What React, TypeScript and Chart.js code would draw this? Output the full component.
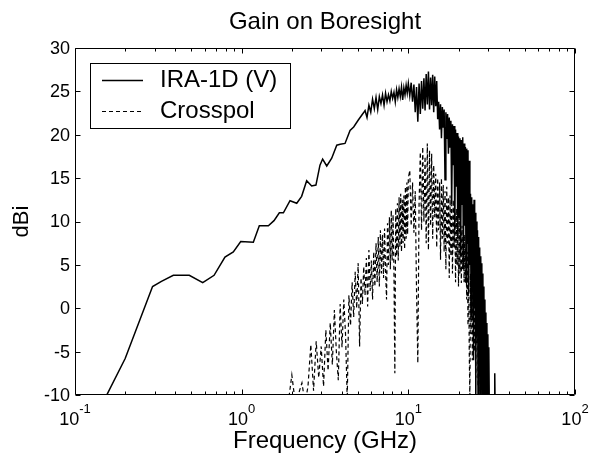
import { useEffect, useRef } from "react";
import { Chart, registerables } from "chart.js";

Chart.register(...registerables);

const FONT = '"Liberation Sans", Arial, Helvetica, sans-serif';

const chartTitle = "Gain on Boresight";
const xAxisTitle = "Frequency (GHz)";
const yAxisTitle = "dBi";
const seriesNames = ["IRA-1D (V)", "Crosspol"];

const xMajorTicks = [0.1, 1, 10, 100];
const xMajorExponents = ["-1", "0", "1", "2"];
const xMinorTicks = [
  0.2, 0.3, 0.4, 0.5, 0.6, 0.7, 0.8, 0.9,
  2, 3, 4, 5, 6, 7, 8, 9,
  20, 30, 40, 50, 60, 70, 80, 90,
];
const yTicks = [-10, -5, 0, 5, 10, 15, 20, 25, 30];

// IRA-1D (V) boresight gain
const mainFreq = [
  0.15, 0.2, 0.292, 0.33, 0.389, 0.485, 0.584, 0.683, 0.794, 0.891,
  0.987, 1.175, 1.276, 1.446, 1.563, 1.683, 1.78, 1.95, 2.14, 2.29,
  2.455, 2.63, 2.79, 2.95, 3.06, 3.24, 3.47, 3.72, 3.9, 4.17,
  4.47, 4.7, 5.01, 5.37,
  5.5, 5.65, 5.8, 5.95, 6.1, 6.25, 6.4, 6.55, 6.7, 6.85,
  7.0, 7.15, 7.3, 7.45, 7.6, 7.75, 7.9, 8.05, 8.2, 8.35,
  8.5, 8.65, 8.8, 8.95, 9.1, 9.25, 9.4, 9.55, 9.7, 9.85,
  10.0, 10.2, 10.4, 10.6, 10.8, 11.0, 11.2, 11.4, 11.6, 11.8,
  12.0, 12.2, 12.4, 12.6, 12.8, 13.0, 13.2, 13.4, 13.6, 13.8,
  14.0, 14.2, 14.4, 14.6, 14.8, 15.0, 15.2, 15.4, 15.6, 15.8,
  16.0, 16.2, 16.4, 16.6, 16.8, 17.0, 17.2, 17.4, 17.6, 17.8,
  18.0, 18.2, 18.4, 18.6, 18.8, 19.0, 19.2, 19.4, 19.6, 19.8,
  20.0, 20.2, 20.4, 20.6, 20.8, 21.0, 21.2, 21.4, 21.6, 21.8,
  22.0, 22.2, 22.4, 22.6, 22.8, 23.0, 23.2, 23.4, 23.6, 23.8,
  24.0, 24.2, 24.4, 24.6, 24.8, 25.0, 25.2, 25.4, 25.6, 25.8,
  26.0, 26.2, 26.4, 26.6, 26.8, 27.0, 27.2, 27.4, 27.6, 27.8,
  28.0, 28.2, 28.4, 28.6, 28.8, 29.0, 29.2, 29.4, 29.6, 29.8,
  30.0, 30.2, 30.4, 30.6, 31.0, 32.8, 33.0, 33.2,
];
const mainGain = [
  -10.55, -5.8, 2.5, 3.1, 3.8, 3.8, 2.95, 3.8, 5.9, 6.5,
  7.7, 7.6, 9.5, 9.5, 10.1, 11.0, 11.0, 12.4, 12.1, 12.9,
  14.7, 14.1, 14.2, 16.5, 17.2, 16.4, 17.3, 18.8, 18.9, 19.0,
  20.5, 20.9, 21.7, 22.5,
  22.8, 22.0, 23.4, 22.6, 24.1, 23.0, 24.3, 22.9, 24.4, 23.6,
  24.6, 23.4, 24.8, 23.8, 24.6, 23.9, 25.0, 24.2, 24.9, 23.8,
  25.2, 24.3, 25.3, 24.4, 25.5, 24.0, 25.4, 24.6, 25.7, 24.8,
  25.9, 24.5, 26.0, 23.8, 25.8, 22.6, 25.5, 21.5, 25.9, 22.4,
  26.2, 23.0, 26.5, 22.8, 27.0, 23.5, 27.3, 22.9, 26.6, 23.4,
  26.9, 22.6, 26.7, 23.3, 26.2, 21.8, 23.8, 20.6, 23.5, 19.6,
  23.2, 20.8, 22.9, 14.8, 22.6, 19.5, 22.4, 17.8, 22.0, 18.6,
  21.6, 12.0, 21.2, 16.5, 21.0, 9.0, 20.6, 14.0, 20.2, 8.0,
  19.8, 10.5, 19.6, 6.0, 19.4, 12.0, 19.7, 4.5, 19.0, 9.5,
  18.6, 3.0, 18.4, 7.5, 18.2, 1.8, 17.0, 5.0, 13.2, -1.0,
  12.8, 2.5, 12.0, -6.0, 12.5, 0.5, 11.0, -10.5, 10.0, -3.0,
  9.0, -11, 8.2, -5, 7.0, -11, 6.0, -8, 5.2, -11,
  4.0, -9, 2.5, -11, 1.0, -10.5, -0.5, -11, -1.7, -11,
  -3.0, -11, -4.5, -11, -12, -12, -7.5, -12,
];

// Crosspol gain
const crossFreq = [
  1.9, 2.0, 2.1, 2.2, 2.3, 2.4, 2.5, 2.6, 2.7, 2.8,
  2.9, 3.0, 3.1, 3.2, 3.3, 3.4, 3.5, 3.6, 3.7, 3.8,
  3.9, 4.0, 4.1, 4.2, 4.3, 4.4, 4.5, 4.6, 4.7, 4.8,
  4.9, 5.0, 5.1,
  5.2, 5.3, 5.4, 5.5, 5.6, 5.7, 5.8, 5.9, 6.0, 6.1,
  6.2, 6.3, 6.4, 6.5, 6.6, 6.7, 6.8, 6.9, 7.0, 7.1,
  7.2, 7.3, 7.4, 7.5, 7.6, 7.7, 7.8, 7.9, 8.0, 8.1,
  8.2, 8.3, 8.4, 8.5, 8.6, 8.7, 8.8, 8.9, 9.0, 9.1,
  9.2, 9.3, 9.4, 9.5, 9.6, 9.7, 9.8, 9.9,
  10.0, 10.2, 10.4, 10.6, 10.8, 11.0, 11.2, 11.4, 11.6, 11.8,
  12.0, 12.2, 12.4, 12.6, 12.8, 13.0, 13.2, 13.4, 13.6, 13.8,
  14.0, 14.2, 14.4, 14.6, 14.8, 15.0, 15.2, 15.4, 15.6, 15.8,
  16.0, 16.2, 16.4, 16.6, 16.8, 17.0, 17.2, 17.4, 17.6, 17.8,
  18.0, 18.2, 18.4, 18.6, 18.8, 19.0, 19.2, 19.4, 19.6, 19.8,
  20.0, 20.2, 20.4, 20.6, 20.8, 21.0, 21.2, 21.4, 21.6, 21.8,
  22.0, 22.2, 22.4, 22.6, 22.8, 23.0, 23.2, 23.4, 23.6, 23.8,
  24.0, 24.2, 24.4, 24.6, 24.8, 25.0, 25.2, 25.4, 25.6, 25.8,
  26.0, 26.2, 26.4, 26.6, 26.8, 27.0, 27.2, 27.4, 27.6, 27.8,
  28.0, 28.2,
];
const crossGain = [
  -11, -7.7, -11, -9.8, -8.6, -11, -9, -4.2, -9.5, -3.8,
  -8, -4.4, -9, -2.5, -7.2, -1.7, -6.5, -0.2, -5, -8.3,
  0.5, -4.5, 1.0, -3, -10.5, 1.5, -2, 3.0, -1, 4.2,
  0, 5.2, -4.4,
  3.5, 0.5, 4.8, 1.5, 5.8, 0.2, 6.7, 2.0, 5.5, 1.0,
  6.5, 2.5, 7.5, 3.0, 8.2, 2.5, 9.0, 4.0, 8.5, 3.5,
  9.2, 4.5, 1.0, 9.8, 5.0, 10.5, 4.5, 11.3, 5.5, 10.8,
  4.0, -7.5, 11.5, 6.0, 12.1, 5.5, 12.8, 7.0, 13.2, 6.5,
  12.5, 7.5, 13.0, 6.8, 14.0, 8.0, 14.5, 8.5,
  15.0, 15.9, 9.5, 14.5, 8.7, 13.5, 2.0, -6.3, 12.0, 18.0,
  9.0, 18.6, 10.0, 17.5, 7.5, 19.0, 6.7, 18.2, 9.5, 17.8,
  8.0, 16.5, 10.5, 15.5, 7.0, 15.0, 9.0, 14.5, 5.6, 15.0,
  8.0, 14.2, 6.5, 13.5, 4.5, 14.0, 7.5, 12.8, 3.5, 13.0,
  6.0, 12.0, 4.0, 12.5, 7.0, 11.0, 3.0, 11.5, 5.0, 10.0,
  2.5, 10.5, 4.0, 9.0, 2.9, 9.5, 4.5, 8.0, 3.0, 8.5,
  2.9, 7.0, 1.0, 6.5, -2.0, 5.0, -5.0, -10.5, 4.0, -3.0,
  6.0, -6.0, 7.0, -2.0, 7.9, -5.0, 7.0, -8.0, 6.0, -4.0,
  7.9, -9.0, 6.5, -6.0, 5.2, -10.5, 4.0, -8, 2.0, -11,
  0, -11,
];

const decorPlugin = {
  id: "matlabDecor",
  afterDraw(chart: any) {
    const { ctx, chartArea: a, scales } = chart;
    const xs = scales.x;
    const ys = scales.y;
    const L = Math.round(a.left) + 0.5;
    const R = Math.round(a.right) - 0.5;
    const T = Math.round(a.top) + 0.5;
    const B = Math.round(a.bottom) - 0.5;
    ctx.save();
    ctx.strokeStyle = "#000";
    ctx.fillStyle = "#000";
    ctx.lineWidth = 1;
    ctx.setLineDash([]);

    // axes box
    ctx.beginPath();
    ctx.rect(L, T, R - L, B - T);
    ctx.stroke();

    // ticks (inward)
    ctx.beginPath();
    const xTick = (v: number, len: number) => {
      const px = Math.round(xs.getPixelForValue(v)) + 0.5;
      ctx.moveTo(px, B);
      ctx.lineTo(px, B - len);
      ctx.moveTo(px, T);
      ctx.lineTo(px, T + len);
    };
    xMajorTicks.forEach((v) => xTick(v, 5));
    xMinorTicks.forEach((v) => xTick(v, 3));
    yTicks.forEach((v) => {
      const py = Math.round(ys.getPixelForValue(v)) + 0.5;
      ctx.moveTo(L, py);
      ctx.lineTo(L + 5, py);
      ctx.moveTo(R, py);
      ctx.lineTo(R - 5, py);
    });
    ctx.stroke();

    // y tick labels
    ctx.font = `18px ${FONT}`;
    ctx.textAlign = "right";
    ctx.textBaseline = "middle";
    yTicks.forEach((v) => {
      ctx.fillText(String(v), a.left - 5, ys.getPixelForValue(v) + 1);
    });

    // x tick labels 10^n
    ctx.textBaseline = "alphabetic";
    ctx.textAlign = "left";
    xMajorTicks.forEach((v, i) => {
      const px = xs.getPixelForValue(v);
      ctx.font = `18px ${FONT}`;
      const wBase = ctx.measureText("10").width;
      ctx.font = `13px ${FONT}`;
      const wExp = ctx.measureText(xMajorExponents[i]).width;
      const x0 = px - (wBase + wExp) / 2;
      ctx.font = `18px ${FONT}`;
      ctx.fillText("10", x0, 425);
      ctx.font = `13px ${FONT}`;
      ctx.fillText(xMajorExponents[i], x0 + wBase, 413);
    });

    // title & axis titles
    const cx = (a.left + a.right) / 2;
    ctx.textAlign = "center";
    ctx.textBaseline = "middle";
    ctx.font = `24px ${FONT}`;
    ctx.fillText(chartTitle, cx, 22);
    ctx.fillText(xAxisTitle, cx, 441);
    ctx.font = `22px ${FONT}`;
    ctx.save();
    ctx.translate(22, (a.top + a.bottom) / 2);
    ctx.rotate(-Math.PI / 2);
    ctx.fillText(yAxisTitle, 0, 0);
    ctx.restore();

    // legend
    const lx = 90.5, ly = 63.5, lw = 200, lh = 65;
    ctx.fillStyle = "#fff";
    ctx.fillRect(lx, ly, lw, lh);
    ctx.strokeStyle = "#000";
    ctx.strokeRect(lx, ly, lw, lh);
    ctx.fillStyle = "#000";
    const rows = [80.5, 111.5];
    ctx.lineWidth = 1.5;
    ctx.beginPath();
    ctx.moveTo(102, rows[0]);
    ctx.lineTo(143, rows[0]);
    ctx.stroke();
    ctx.lineWidth = 1.2;
    ctx.setLineDash([4, 3]);
    ctx.beginPath();
    ctx.moveTo(102, rows[1]);
    ctx.lineTo(143, rows[1]);
    ctx.stroke();
    ctx.setLineDash([]);
    ctx.font = `24px ${FONT}`;
    ctx.textAlign = "left";
    ctx.textBaseline = "middle";
    ctx.fillText(seriesNames[0], 160, rows[0]);
    ctx.fillText(seriesNames[1], 160, rows[1]);
    ctx.restore();
  },
};

export default function App() {
  const canvasRef = useRef<HTMLCanvasElement | null>(null);

  useEffect(() => {
    const canvas = canvasRef.current;
    if (!canvas) return;
    const mainData = mainFreq.map((f, i) => ({ x: f, y: mainGain[i] }));
    const crossData = crossFreq.map((f, i) => ({ x: f, y: crossGain[i] }));
    const chart = new Chart(canvas, {
      type: "line",
      data: {
        datasets: [
          {
            label: seriesNames[0],
            data: mainData,
            borderColor: "#000",
            borderWidth: 1.5,
            pointRadius: 0,
            tension: 0,
            fill: false,
          },
          {
            label: seriesNames[1],
            data: crossData,
            borderColor: "#000",
            borderWidth: 1.2,
            borderDash: [4, 3],
            pointRadius: 0,
            tension: 0,
            fill: false,
          },
        ],
      },
      options: {
        responsive: false,
        animation: false,
        devicePixelRatio: 1,
        events: [],
        layout: { padding: { left: 75, right: 15, top: 48, bottom: 62 } },
        plugins: {
          legend: { display: false },
          tooltip: { enabled: false },
          title: { display: false },
        },
        scales: {
          x: { type: "logarithmic", min: 0.1, max: 100, display: false },
          y: { type: "linear", min: -10, max: 30, display: false },
        },
      },
      plugins: [decorPlugin],
    });
    return () => chart.destroy();
  }, []);

  return (
    <div
      style={{
        position: "fixed",
        left: 0,
        top: 0,
        width: 590,
        height: 457,
        background: "#fff",
      }}
    >
      <canvas
        ref={canvasRef}
        width={590}
        height={457}
        style={{ display: "block", width: 590, height: 457 }}
      />
    </div>
  );
}
